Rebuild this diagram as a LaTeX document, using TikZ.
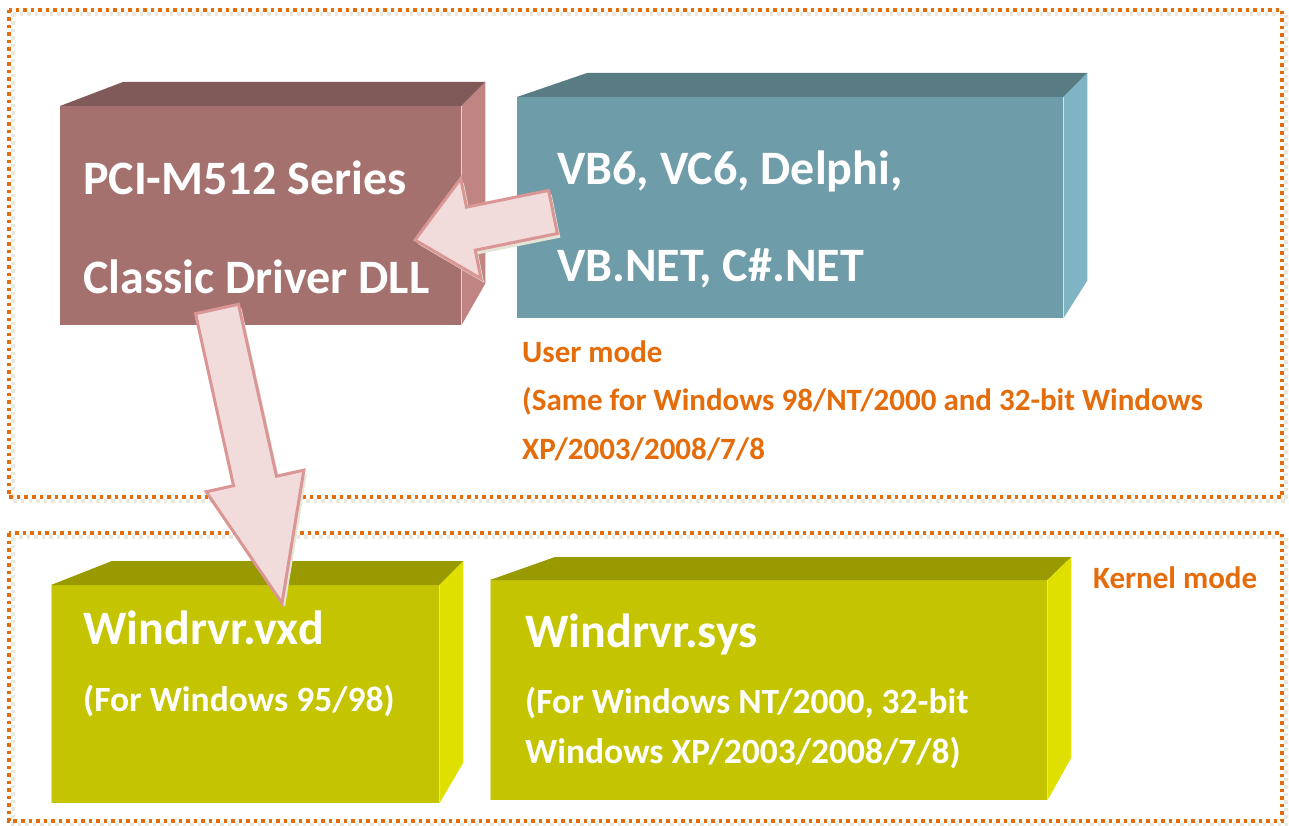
\documentclass[tikz,border=0pt]{standalone}
\usepackage{fontspec}
\setmainfont{Carlito}
\usetikzlibrary{calc}
\definecolor{orng}{HTML}{E46C0A}
\definecolor{dotsh}{HTML}{EAE8DC}
\definecolor{brF}{HTML}{A5716F}
\definecolor{brT}{HTML}{805A59}
\definecolor{brS}{HTML}{C08482}
\definecolor{tlF}{HTML}{6F9CA9}
\definecolor{tlT}{HTML}{587B84}
\definecolor{tlS}{HTML}{7EB4C4}
\definecolor{ylF}{HTML}{C4C400}
\definecolor{ylT}{HTML}{999900}
\definecolor{ylS}{HTML}{E0E000}
\definecolor{arF}{HTML}{F2DCDB}
\definecolor{arL}{HTML}{D99694}
\definecolor{arSh}{HTML}{E6E4D6}
\tikzset{
  dotframe/.style={draw=orng, line width=3.5pt, dash pattern=on 3.5pt off 4pt},
  dotframesh/.style={draw=dotsh, line width=3.5pt, dash pattern=on 3.5pt off 4pt},
  frontface/.style={draw=none, inner sep=0pt, anchor=north west},
  bigtxt/.style={text=white, font=\bfseries\fontsize{48}{52}\selectfont, anchor=base west, inner sep=0pt},
  midtxt/.style={text=white, font=\bfseries\fontsize{35.5}{40}\selectfont, anchor=base west, inner sep=0pt},
  modetxt/.style={text=orng, font=\bfseries\fontsize{31}{35}\selectfont, anchor=base west, inner sep=0pt},
  arrowbody/.style={fill=arF, draw=arL, line width=3pt, line join=miter},
  arrowshadow/.style={fill=arSh, transform canvas={shift={(3pt,-4pt)}}}
}
% #1 prefix, #2 tip, #3 tail, #4 head length, #5 head half width, #6 shaft half width
\newcommand\blockarrow[6]{%
  \coordinate (#1B) at ($(#2)!#4pt!(#3)$);
  \coordinate (#1h1) at ($(#1B)!#5pt!90:(#2)$);
  \coordinate (#1h2) at ($(#1B)!#5pt!-90:(#2)$);
  \coordinate (#1s1) at ($(#1B)!#6pt!90:(#2)$);
  \coordinate (#1s2) at ($(#1B)!#6pt!-90:(#2)$);
  \coordinate (#1t1) at ($(#3)!#6pt!90:(#2)$);
  \coordinate (#1t2) at ($(#3)!#6pt!-90:(#2)$);
  \fill[arrowshadow] (#2) -- (#1h1) -- (#1s1) -- (#1t1) -- (#1t2) -- (#1s2) -- (#1h2) -- cycle;
  \path[arrowbody] (#2) -- (#1h1) -- (#1s1) -- (#1t1) -- (#1t2) -- (#1s2) -- (#1h2) -- cycle;
}
\begin{document}
\begin{tikzpicture}[x=1pt,y=-1pt]
\useasboundingbox (0,0) rectangle (1289,826);
\fill[white] (0,0) rectangle (1289,826);

% dotted frames
\draw[dotframesh] (13,14) rectangle (1286,501);
\draw[dotframe] (9,10) rectangle (1282,497);
\draw[dotframesh] (13,537) rectangle (1286,825);
\draw[dotframe] (9,533) rectangle (1282,821);

% brown box
\node[frontface, fill=brF, minimum width=401pt, minimum height=219pt] (dll) at (60,106) {};
\fill[brT] (dll.north west) -- ++(63,-24) -- ($(dll.north east)+(24,-24)$) -- (dll.north east) -- cycle;
\fill[brS] (dll.north east) -- ++(24,-24) -- ($(dll.south east)+(24,-42)$) -- (dll.south east) -- cycle;
\draw[white!70!brF, line width=1pt] (dll.north east) -- (dll.south east);
\node[bigtxt] (dll1) at (83,195) {PCI-M512 Series};
\node[bigtxt] (dll2) at (83,293) {Classic Driver DLL};

% teal box
\node[frontface, fill=tlF, minimum width=546pt, minimum height=221pt] (lang) at (517,97) {};
\fill[tlT] (lang.north west) -- ++(70,-24) -- ($(lang.north east)+(24,-24)$) -- (lang.north east) -- cycle;
\fill[tlS] (lang.north east) -- ++(24,-24) -- ($(lang.south east)+(24,-38)$) -- (lang.south east) -- cycle;
\draw[white!70!tlF, line width=1pt] (lang.north east) -- (lang.south east);
\node[bigtxt] (lang1) at (557,185) {VB6, VC6, Delphi,};
\node[bigtxt] (lang2) at (557,281) {VB.NET, C\#.NET};

% user mode text
\node[modetxt] (um1) at (522,362) {User mode};
\node[modetxt] (um2) at (522,410) {(Same for Windows 98/NT/2000 and 32-bit Windows};
\node[modetxt] (um3) at (522,459) {XP/2003/2008/7/8};

% yellow boxes
\node[frontface, fill=ylF, minimum width=388pt, minimum height=218pt] (vxd) at (51,585) {};
\fill[ylT] (vxd.north west) -- ++(61,-24) -- ($(vxd.north east)+(24,-24)$) -- (vxd.north east) -- cycle;
\fill[ylS] (vxd.north east) -- ++(24,-24) -- ($(vxd.south east)+(24,-41)$) -- (vxd.south east) -- cycle;
\draw[white!55!ylF, line width=1pt] (vxd.north west) -- (vxd.south west);
\node[bigtxt] (vxd1) at (83,644) {Windrvr.vxd};
\node[midtxt] (vxd2) at (83,711) {(For Windows 95/98)};

\node[frontface, fill=ylF, minimum width=557pt, minimum height=220pt] (sys) at (490,580) {};
\fill[ylT] (sys.north west) -- ++(65,-23) -- ($(sys.north east)+(24,-23)$) -- (sys.north east) -- cycle;
\fill[ylS] (sys.north east) -- ++(24,-23) -- ($(sys.south east)+(24,-43)$) -- (sys.south east) -- cycle;
\draw[white!55!ylF, line width=1pt] (sys.north west) -- (sys.south west);
\node[bigtxt] (sys1) at (525,647) {Windrvr.sys};
\node[midtxt] (sys2) at (525,713) {(For Windows NT/2000, 32-bit};
\node[midtxt] (sys3) at (525,763) {Windows XP/2003/2008/7/8)};

\node[modetxt] (km) at (1093,588) {Kernel mode};

% arrows
\coordinate (a1tip) at (415,240);
\coordinate (a1tail) at (553,212);
\blockarrow{a1}{a1tip}{a1tail}{57}{51}{22}
\coordinate (a2tip) at (282,603);
\coordinate (a2tail) at (217,309);
\blockarrow{a2}{a2tip}{a2tail}{125}{50}{22}
\end{tikzpicture}
\end{document}
